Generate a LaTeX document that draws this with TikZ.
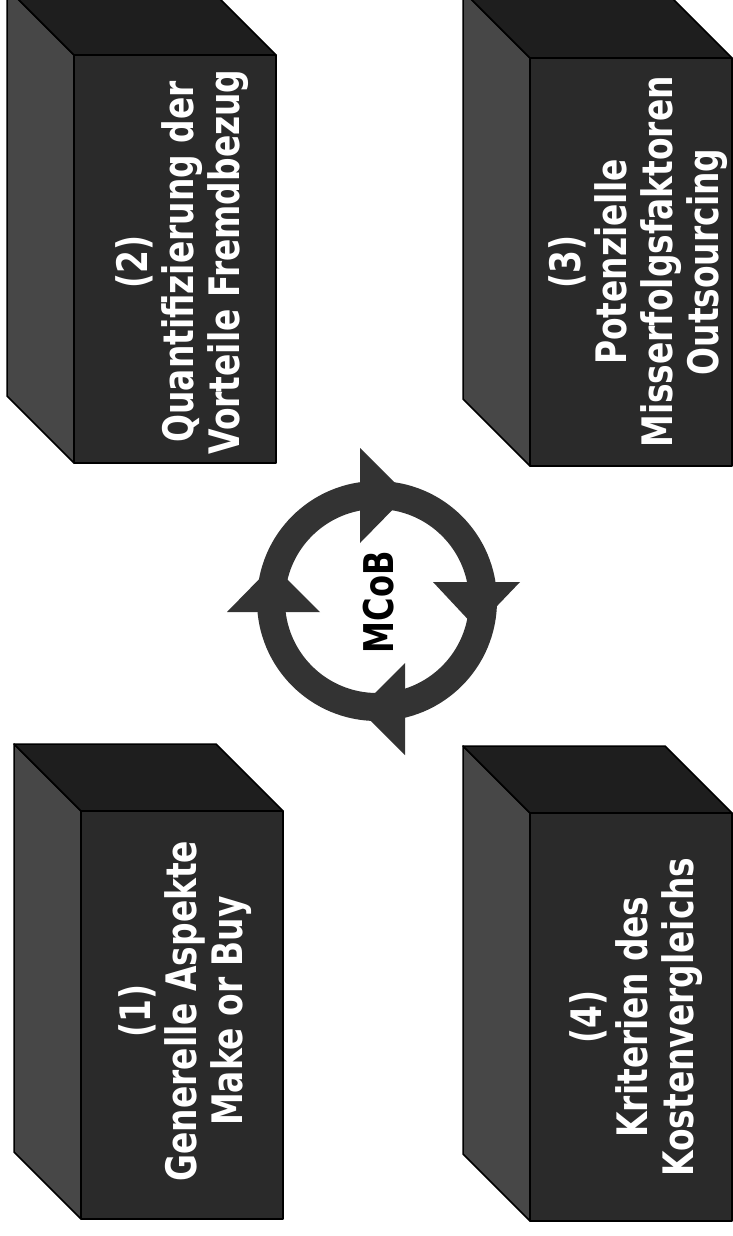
\documentclass[tikz,border=0pt]{standalone}
\usepackage{fontspec}
\newfontfamily\boxfont[FakeStretch=0.87]{DejaVu Sans Condensed}
\definecolor{frontc}{HTML}{2A2A2A}
\definecolor{sidec}{HTML}{474747}
\definecolor{topc}{HTML}{1E1E1E}
\definecolor{ringc}{HTML}{333333}
\tikzset{
  cuboid/.pic={
    \filldraw[side] (-101,-204) -- (-168,-271) -- (-168,137) -- (-101,204) -- cycle;
    \filldraw[topf] (-101,-204) -- (-168,-271) -- (34,-271) -- (101,-204) -- cycle;
    \filldraw[frontf] (-101,-204) rectangle (101,204);
  },
  side/.style={draw=black, line width=1.5pt, fill=sidec, line join=round},
  topf/.style={draw=black, line width=1.5pt, fill=topc, line join=round},
  frontf/.style={draw=black, line width=1.5pt, fill=frontc, line join=round},
  lbl/.style={rotate=90, text=white, font=\boxfont\bfseries\fontsize{42}{46}\selectfont, align=center, inner sep=0pt},
  ringarrow/.style={fill=ringc}
}
\begin{document}
\begin{tikzpicture}[x=1pt,y=-1pt]
\useasboundingbox (0,0) rectangle (732,1236);
\fill[white] (0,0) rectangle (732,1236);

% cuboids
\pic at (175,259) {cuboid};
\pic at (631,262) {cuboid};
\pic at (182,1015) {cuboid};
\pic at (631,1017) {cuboid};

\node[lbl] (t2) at (182,262) {(2)\\Quantifizierung der\\Vorteile Fremdbezug};
\node[lbl] (t3) at (638,262) {(3)\\Potenzielle\\Misserfolgsfaktoren\\Outsourcing};
\node[lbl] (t1) at (185,1011) {(1)\\Generelle Aspekte\\Make or Buy};
\node[lbl] (t4) at (636,1017) {(4)\\Kriterien des\\Kostenvergleichs};

% cycle
\draw[ringc, line width=28pt] (377,601) circle[radius=106];
\fill[ringarrow] (360,448) -- (360,543) -- (407,495) -- cycle;
\fill[ringarrow] (433,582) -- (520,582) -- (476,628) -- cycle;
\fill[ringarrow] (405,663) -- (405,755) -- (359,709) -- cycle;
\fill[ringarrow] (227,612) -- (320,612) -- (273,565) -- cycle;
\node[rotate=90, font=\boxfont\bfseries\fontsize{41}{42}\selectfont, inner sep=0pt] (mcob) at (379,602) {MCoB};
\end{tikzpicture}
\end{document}
